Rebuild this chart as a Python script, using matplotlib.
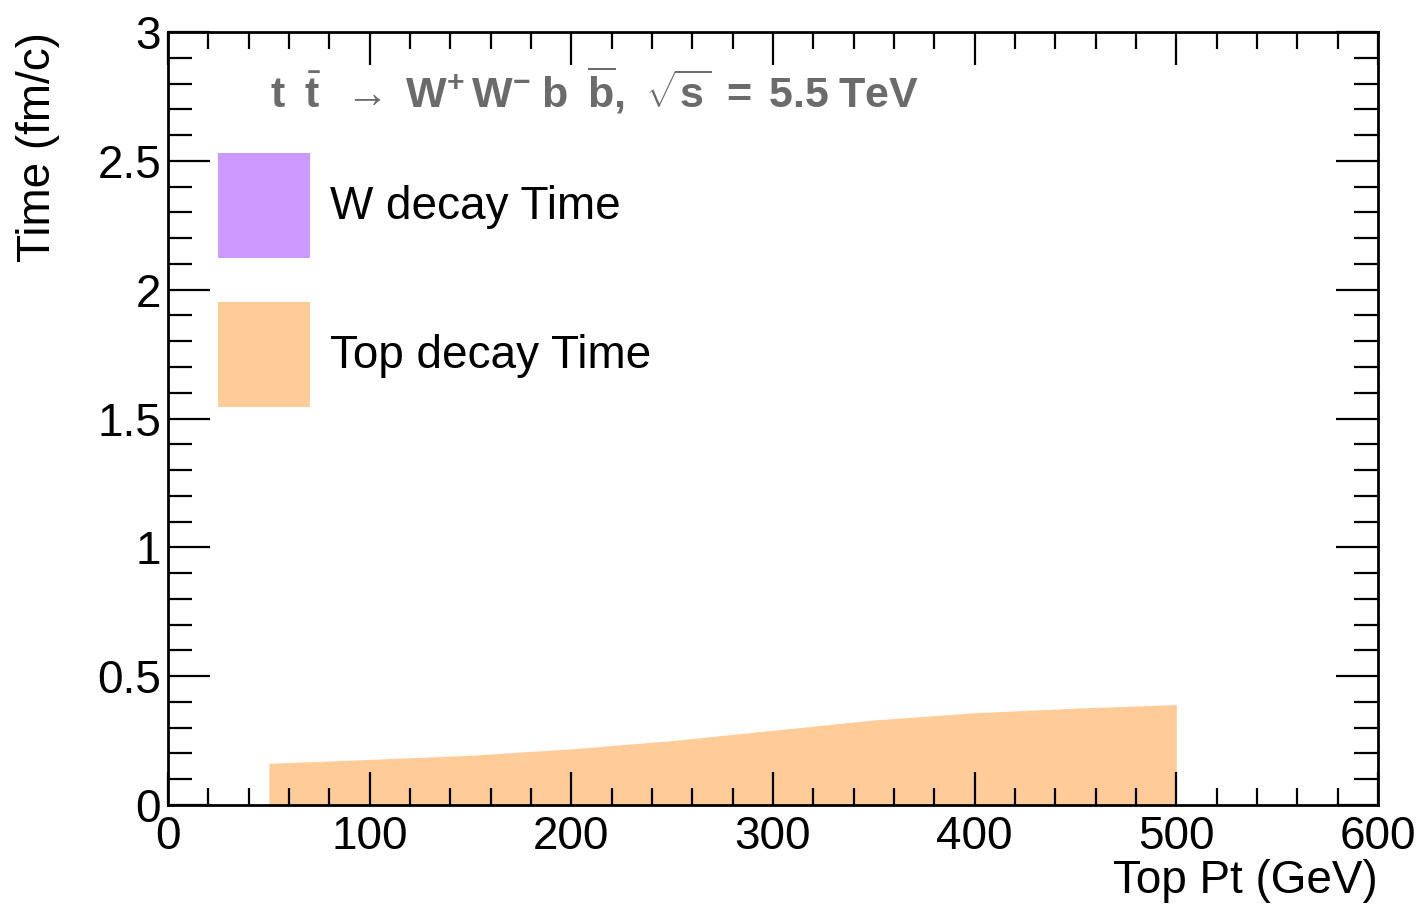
import matplotlib
matplotlib.use("Agg")
import matplotlib.pyplot as plt
from matplotlib.patches import Patch
from matplotlib.ticker import MultipleLocator

plt.rcParams['font.family'] = ['Liberation Sans', 'DejaVu Sans']
plt.rcParams['mathtext.fontset'] = 'custom'
plt.rcParams['mathtext.rm'] = 'Liberation Sans'
plt.rcParams['mathtext.bf'] = 'Liberation Sans:bold'
plt.rcParams['mathtext.it'] = 'Liberation Sans:italic'

# Data
top_pt = [50, 100, 150, 200, 250, 300, 350, 400, 450, 500]
top_decay_time = [0.162, 0.177, 0.193, 0.218, 0.250, 0.290, 0.330, 0.358, 0.376, 0.390]
legend_labels = ["W decay Time", "Top decay Time"]
legend_colors = ["#cc99ff", "#ffcc99"]

FS = 33

fig = plt.figure(figsize=(14.18, 9.08), dpi=100)
ax = fig.add_axes([168/1418, 1-805/908, 1210/1418, 773/908])

ax.fill_between(top_pt, 0, top_decay_time, color=legend_colors[1], lw=0, zorder=1)

ax.set_xlim(0, 600)
ax.set_ylim(0, 3)
ax.xaxis.set_major_locator(MultipleLocator(100))
ax.xaxis.set_minor_locator(MultipleLocator(20))
ax.yaxis.set_minor_locator(MultipleLocator(0.1))
ax.set_yticks([0, 0.5, 1, 1.5, 2, 2.5, 3])
ax.set_yticklabels(["0", "0.5", "1", "1.5", "2", "2.5", "3"])

for s in ax.spines.values():
    s.set_linewidth(2)
    s.set_zorder(5)

ax.tick_params(axis='both', which='both', direction='in', top=True, right=True, width=1.6, labelsize=FS)
ax.tick_params(axis='x', which='major', length=24, pad=7)
ax.tick_params(axis='x', which='minor', length=12)
ax.tick_params(axis='y', which='major', length=30, pad=5)
ax.tick_params(axis='y', which='minor', length=17)

ax.set_xlabel("Top Pt (GeV)", fontsize=FS, loc='right', labelpad=0)
ax.set_ylabel("Time (fm/c)", fontsize=FS, loc='top')
ax.yaxis.set_label_coords((60-168)/1210, 1.0)

title = (r'$\mathbf{t}\;\;\bar{\mathbf{t}}\;\;\rightarrow\;\mathbf{W^{+}\,W^{-}\;b}\;\;'
         r'\overline{\mathbf{b}}\mathbf{,}\;\;\sqrt{\mathbf{s}}\;\mathbf{=\;5.5\;TeV}$')
ax.text((270-168)/1210, (805-108)/773, title, transform=ax.transAxes,
        fontsize=31, color='#6b6b6b', ha='left', va='baseline')

handles = [Patch(facecolor=c, edgecolor='none') for c in legend_colors]
leg = ax.legend(handles, legend_labels, loc='upper left',
                bbox_to_anchor=((218-168)/1210, (805-153)/773),
                frameon=False, fontsize=FS, borderpad=0, borderaxespad=0,
                handlelength=2.0, handleheight=3.15, handletextpad=0.44,
                labelspacing=0.96)

fig.savefig("out.png", dpi=100)
